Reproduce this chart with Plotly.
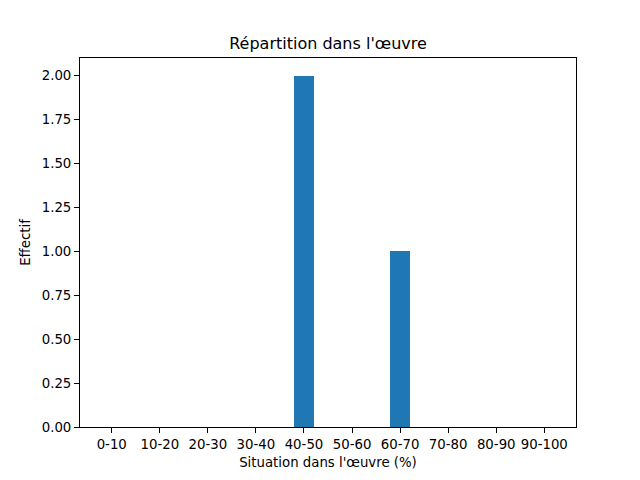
import plotly.graph_objects as go

categories = ["0-10", "10-20", "20-30", "30-40", "40-50", "50-60", "60-70", "70-80", "80-90", "90-100"]
counts = [0, 0, 0, 0, 2, 0, 1, 0, 0, 0]

fig = go.Figure(go.Bar(x=categories, y=counts, marker=dict(color="#1f77b4", line=dict(width=0)), width=0.41))

axis_common = dict(
    showline=True, linecolor="black", linewidth=1, mirror=True,
    ticks="outside", ticklen=5, tickwidth=1, tickcolor="black",
    showgrid=False, zeroline=False,
    tickfont=dict(family="DejaVu Sans", size=13.3, color="black"),
)

W, H = 632, 472  # page body has an 8px offset
fig.update_layout(
    width=W, height=H,
    margin=dict(l=72, r=64, t=50, b=53),
    paper_bgcolor="white", plot_bgcolor="white",
    font=dict(family="DejaVu Sans", size=13.3, color="black"),
    title=dict(text="Répartition dans l'œuvre", x=320 / W, xanchor="center",
               y=1 - 35 / H, yanchor="middle",
               font=dict(size=16, family="DejaVu Sans", color="black")),
    showlegend=False,
    bargap=0,
)
fig.update_xaxes(**axis_common, type="category", range=[-0.66, 9.66],
                 title=dict(text="Situation dans l'œuvre (%)", standoff=6,
                            font=dict(family="DejaVu Sans", size=13.3, color="black")))
fig.update_yaxes(**axis_common, range=[0, 2.1], tickmode="linear", tick0=0, dtick=0.25, tickformat=".2f",
                 title=dict(text="Effectif", standoff=8,
                            font=dict(family="DejaVu Sans", size=13.3, color="black")))

fig.write_html("out.html")
